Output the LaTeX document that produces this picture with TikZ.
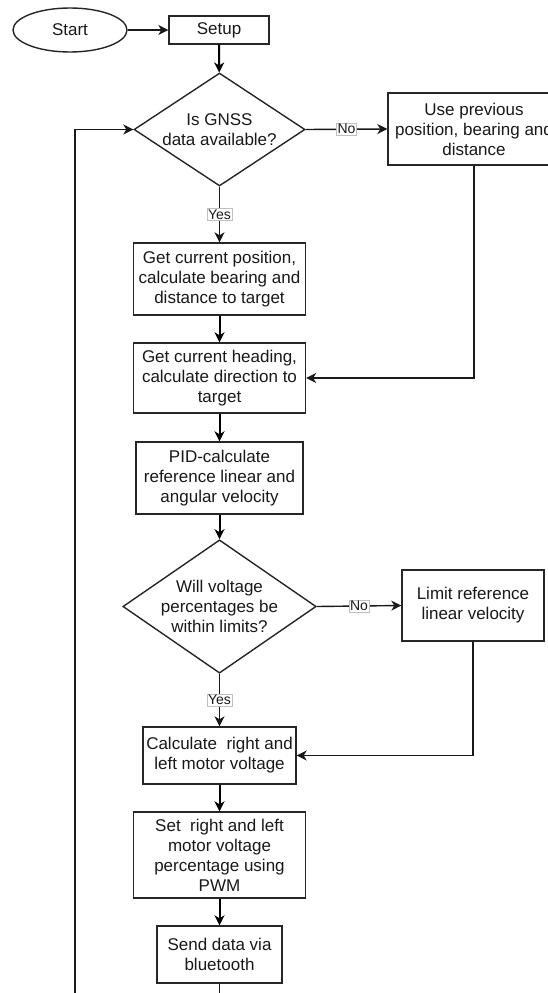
\documentclass[tikz,border=0pt]{standalone}
\usepackage{fontspec}
\setmainfont{Liberation Sans}
\usetikzlibrary{shapes.geometric,arrows.meta}
\tikzset{
  base/.style={draw=black!85, line width=1.4pt, align=center, inner sep=0pt,
    font=\fontsize{17}{20}\selectfont, text=black!90},
  proc/.style={base, rectangle},
  term/.style={base, ellipse},
  decide/.style={base, diamond},
  lbl/.style={fill=white, draw=black!25, line width=0.6pt, inner sep=1pt,
    font=\fontsize{14}{16}\selectfont, text=black!90},
  flow/.style={line width=2pt, draw=black, -{Stealth[length=10pt,width=10pt,inset=3pt]}},
  side/.style={line width=1.4pt, draw=black!90, -{Stealth[length=10pt,width=10pt,inset=3pt]}},
  plain/.style={line width=1.4pt, draw=black!90},
}
\begin{document}
\begin{tikzpicture}[x=1pt,y=-1pt]
\useasboundingbox (0,0) rectangle (548,993);
\clip (0,0) rectangle (548,993);
\fill[white] (0,0) rectangle (548,993);

\node[term, minimum width=114pt, minimum height=44pt] (start) at (70,30) {Start};
\node[proc, minimum width=100pt, minimum height=28pt] (setup) at (219,30) {Setup};
\node[decide, minimum width=171pt, minimum height=113pt, aspect=1.5] (d1) at (219.5,129.5) {Is GNSS\\data available?};
\node[proc, minimum width=172pt, minimum height=72pt] (prev) at (474,129) {Use previous\\position, bearing and\\distance};
\node[proc, minimum width=172pt, minimum height=72pt] (b1) at (219.5,279) {Get current position,\\calculate bearing and\\distance to target};
\node[proc, minimum width=172pt, minimum height=70pt] (b2) at (219.5,378) {Get current heading,\\calculate direction to\\target};
\node[proc, minimum width=167pt, minimum height=72pt] (b3) at (219.5,478) {PID-calculate\\reference linear and\\angular velocity};
\node[decide, minimum width=185pt, minimum height=127pt, aspect=1.45] (d2) at (219.5,606.5) {Will voltage\\percentages be\\within limits?};
\node[proc, minimum width=142pt, minimum height=71pt] (limit) at (473,605.5) {Limit reference\\linear velocity};
\node[proc, minimum width=153pt, minimum height=57pt] (calc) at (219.5,755.5) {Calculate\ \ right and\\left motor voltage};
\node[proc, minimum width=172pt, minimum height=86pt] (set) at (219.5,855) {Set\ \ right and left\\motor voltage\\percentage using\\PWM};
\node[proc, minimum width=125pt, minimum height=57pt] (send) at (219.5,954.5) {Send data via\\bluetooth};

\coordinate (sendout) at (219.5,993);
\coordinate (loopin) at (75,993);
\coordinate (prevturn) at (474,378);
\coordinate (limitturn) at (473,755.5);

\draw[side] (start) -- (setup);
\draw[flow] (setup) -- (d1);
\draw[side] (d1.east) -- node[lbl] {No} (prev.west);
\draw[side] (d1.south) -- node[lbl, pos=0.5] {Yes} (b1.north);
\draw[flow] (b1) -- (b2);
\draw[side] (prev.south) -- (prevturn) -- (b2.east);
\draw[flow] (b2) -- (b3);
\draw[flow] (b3) -- (d2);
\draw[side] (d2.east) -- node[lbl] {No} (limit.west);
\draw[side] (d2.south) -- node[lbl, pos=0.5] {Yes} (calc.north);
\draw[side] (limit.south) -- (limitturn) -- (calc.east);
\draw[flow] (calc) -- (set);
\draw[flow] (set) -- (send);
\draw[plain] (send.south) -- (sendout);
\draw[side] (loopin) |- (d1.west);
\end{tikzpicture}
\end{document}
